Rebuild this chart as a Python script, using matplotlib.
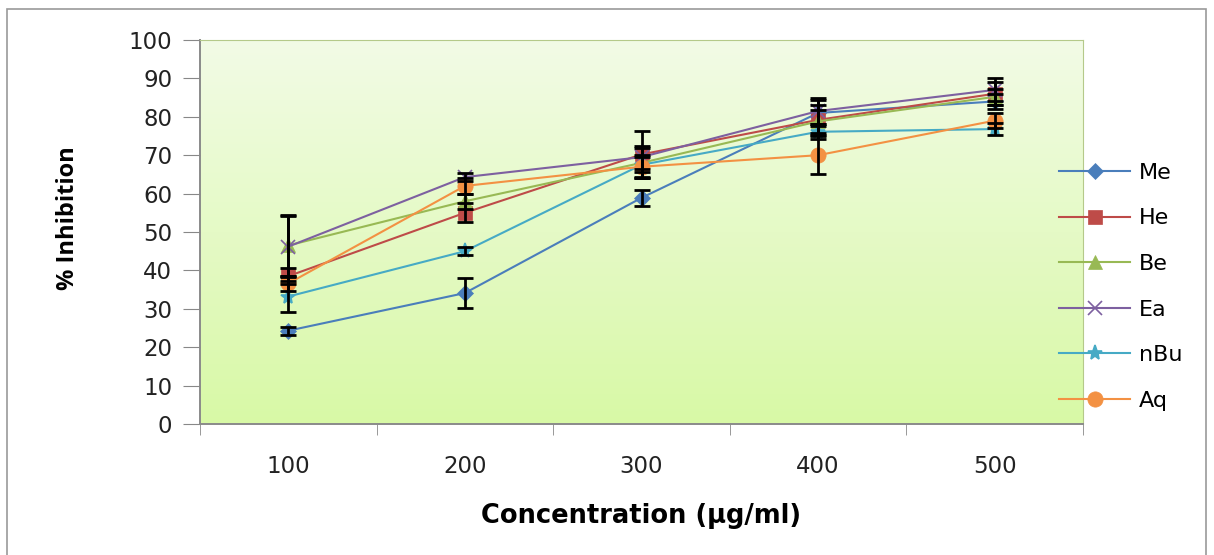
import numpy as np
import matplotlib.pyplot as plt
from matplotlib.patches import Rectangle

# concentrations (ug/ml) and % inhibition per extract
conc = ["100", "200", "300", "400", "500"]

me = [24.3, 34.1, 58.9, 81.0, 84.0]
he = [38.5, 55.0, 70.2, 79.2, 86.0]
be = [46.5, 58.0, 68.0, 78.8, 85.2]
ea = [46.2, 64.3, 69.5, 81.5, 87.0]
nbu = [33.2, 45.0, 67.5, 76.1, 76.8]
aq = [36.6, 62.0, 67.0, 70.0, 79.0]

me_err = [1.0, 4.0, 2.0, 3.5, 2.0]
he_err = [2.0, 2.5, 6.0, 4.0, 3.0]
be_err = [8.0, 2.0, 4.0, 3.0, 2.0]
ea_err = [8.0, 1.0, 3.0, 3.5, 3.0]
nbu_err = [4.0, 1.0, 2.0, 2.0, 1.5]
aq_err = [2.0, 2.0, 3.0, 5.0, 2.0]

names = ["Me", "He", "Be", "Ea", "nBu", "Aq"]

fig = plt.figure(figsize=(12.14, 5.55), dpi=100)
ax = fig.add_axes([200/1214, 1 - 424/555, 883/1214, 384/555])

# outer chart frame
fig.patches.append(Rectangle((7/1214, -0.05), 1199/1214, 1.05 - 9/555,
                             transform=fig.transFigure, fill=False,
                             edgecolor="#9a9a9a", lw=1.2))

# gradient plot background
top = np.array([242, 251, 230]) / 255
bot = np.array([216, 249, 166]) / 255
t = np.linspace(0, 1, 256)[:, None]
grad = (top * (1 - t) + bot * t)[:, None, :]
ax.imshow(grad, extent=[0, 1, 0, 1], transform=ax.transAxes,
          aspect="auto", zorder=0)

x = np.arange(len(conc))
series = [me, he, be, ea, nbu, aq]
errs = [me_err, he_err, be_err, ea_err, nbu_err, aq_err]
colors = ["#4a7ebb", "#be4b48", "#98b954", "#7d60a0", "#46aac5", "#f39143"]
markers = ["D", "s", "^", "x", "*", "o"]
msizes = [8, 10, 10, 10, 11, 11]

for s, e, c, m, ms, n in zip(series, errs, colors, markers, msizes, names):
    ax.plot(x, s, color=c, lw=1.5, marker=m, ms=ms, mew=1.2 if m in "x*" else 0.5,
            mec=c, mfc=c, label=n, zorder=3)
    ax.errorbar(x, s, yerr=e, fmt="none", ecolor="black", elinewidth=2,
                capsize=6, capthick=2, zorder=4)

ax.set_xlim(-0.5, 4.5)
ax.set_ylim(0, 100)
ax.set_yticks(range(0, 101, 10))
ax.set_xticks(x)
ax.set_xticklabels(conc)
ax.set_xticks(np.arange(-0.5, 5, 1), minor=True)
ax.tick_params(axis="x", which="major", length=0, pad=22, labelsize=16.5, colors="#222")
ax.tick_params(axis="x", which="minor", length=8, direction="out", color="#888")
ax.tick_params(axis="y", length=12, direction="out", color="#888", labelsize=16.5,
               pad=8, labelcolor="#222")

for side in ["top", "right"]:
    ax.spines[side].set_color("#b5c98a")
for side in ["left", "bottom"]:
    ax.spines[side].set_color("#8a8a8a")
    ax.spines[side].set_linewidth(1.4)

ax.set_ylabel("% Inhibition", fontsize=17, fontweight="bold", family="Open Sans")
ax.yaxis.set_label_coords(-0.136, 0.536)
ax.set_xlabel("Concentration (µg/ml)", fontsize=18.5, fontweight="bold",
              family="DejaVu Sans")
ax.xaxis.set_label_coords(0.5, -0.205)

ax.legend(loc="upper left", bbox_to_anchor=(0.963, 0.703), frameon=False,
          fontsize=16, handlelength=3.2, labelspacing=1.15, handletextpad=0.4,
          borderaxespad=0)

fig.savefig("out.png", dpi=100)
